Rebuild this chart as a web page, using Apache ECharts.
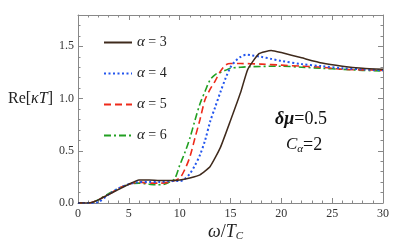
<!DOCTYPE html>
<html><head><meta charset="utf-8">
<script src="https://cdn.jsdelivr.net/npm/echarts@6/dist/echarts.min.js"></script>
<style>html,body{margin:0;padding:0;background:#fff}#c{width:415px;height:250px}</style>
</head><body><div id="c"></div>
<script>
const xTickValues=[0,5,10,15,20,25,30];
const yTickValues=[0.0,0.5,1.0,1.5];
const alphaValues=[3,4,5,6];
const a3X=[0,1,1.5,2,3,4,5,6,7,8,9,10,11,12,13,14,15,16,16.7,17.8,19,20,22,24,26,28,30];
const a3Y=[0,0,0.01,0.03,0.08,0.13,0.18,0.22,0.22,0.215,0.215,0.22,0.24,0.27,0.35,0.53,0.79,1.06,1.28,1.43,1.46,1.44,1.39,1.34,1.31,1.29,1.28];
const a4X=[0,1,2,3,4,5,6,7,8,9,10,10.5,11,11.5,12,12.5,13,13.5,14,14.5,15,15.5,16,16.6,17,18,19,20,22,24,26,28,30];
const a4Y=[0,0,0.01,0.08,0.14,0.18,0.2,0.2,0.2,0.21,0.21,0.23,0.28,0.36,0.46,0.6,0.78,0.92,1.06,1.19,1.3,1.36,1.4,1.42,1.415,1.4,1.38,1.36,1.33,1.31,1.29,1.28,1.27];
const a5X=[0,1,1.5,2,3,4,5,6,7,8,9,10,10.5,11,11.5,12,12.5,13,13.5,14,14.5,15,16,18,20,22,24,26,28,30];
const a5Y=[0,0,0.01,0.03,0.08,0.14,0.18,0.2,0.19,0.19,0.2,0.24,0.32,0.44,0.62,0.8,0.99,1.09,1.17,1.26,1.32,1.335,1.335,1.33,1.32,1.31,1.3,1.28,1.275,1.27];
const a6X=[0,1,1.5,2,3,4,5,6,7,7.7,8.5,9,9.5,10,10.5,11,11.5,12,12.5,13,13.5,14,14.5,15,16,17,20,22,24,26,28,30];
const a6Y=[0,0,0.01,0.03,0.09,0.14,0.18,0.19,0.18,0.175,0.18,0.2,0.23,0.36,0.48,0.62,0.79,0.95,1.07,1.18,1.23,1.25,1.27,1.29,1.3,1.305,1.31,1.3,1.29,1.28,1.27,1.265];

const serif="'Liberation Serif','DejaVu Serif',serif";
const colors=['#3f2a1c','#2255ee','#ee2a1a','#22a022'];
const dashes=['solid',[2,2.5],[7,4],[7,3,2,3]];
const widths=[1.5,2,1.6,1.6];
const xs=[a3X,a4X,a5X,a6X], ys=[a3Y,a4Y,a5Y,a6Y];

const chart=echarts.init(document.getElementById('c'),null,{renderer:'canvas'});
const frameColor='#888';
function xAx(pos,labels){return {type:'value',position:pos,min:0,max:30,interval:5,
  axisLine:{show:true,onZero:false,lineStyle:{color:frameColor,width:1}},
  axisTick:{show:true,inside:true,length:5,lineStyle:{color:frameColor}},
  minorTick:{show:true,splitNumber:5,length:2.5,lineStyle:{color:frameColor}},
  splitLine:{show:false},minorSplitLine:{show:false},
  axisLabel:{show:labels,margin:5,fontFamily:serif,fontSize:12,color:'#333'}};}
function yAx(pos,major,labels){return {type:'value',position:pos,min:0,max:1.8,interval:major?0.5:0.1,
  axisLine:{show:major,onZero:false,lineStyle:{color:frameColor,width:1}},
  axisTick:{show:true,inside:true,length:major?5:2.5,lineStyle:{color:frameColor}},
  splitLine:{show:false},
  axisLabel:{show:labels,margin:4,fontFamily:serif,fontSize:12,color:'#333',showMaxLabel:false,
    formatter:v=>yTickValues.some(t=>Math.abs(t-v)<1e-9)?v.toFixed(1):''}};}

const series=alphaValues.map((a,i)=>({
  name:'α = '+a,type:'line',xAxisIndex:0,yAxisIndex:0,
  data:xs[i].map((x,j)=>[x,ys[i][j]]),
  showSymbol:false,symbol:'none',smooth:i===0?0.15:0.3,
  lineStyle:{color:colors[i],width:widths[i],type:dashes[i]},
  itemStyle:{color:colors[i]},z:10-i}));

chart.setOption({
  animation:false,
  grid:{left:78,right:32,top:15,bottom:47,containLabel:false},
  xAxis:[xAx('bottom',true),xAx('top',false)],
  yAxis:[yAx('left',true,true),yAx('left',false,false),yAx('right',true,false),yAx('right',false,false)],
  legend:{orient:'vertical',left:98,top:30,itemWidth:28,itemHeight:14,itemGap:16,
    itemStyle:{opacity:0},
    data:alphaValues.map(a=>'α = '+a),
    formatter:n=>'{a|α}{b|'+n.slice(1)+'}',
    textStyle:{fontFamily:serif,fontSize:14,color:'#222',
      rich:{a:{fontStyle:'italic',fontFamily:serif,fontSize:15,color:'#222'},b:{fontFamily:serif,fontSize:14,color:'#222'}}}},
  series:series,
  graphic:[
    {type:'text',left:8,top:91,style:{text:'{r|Re[}{i|κT}{r|]}',
      rich:{r:{fontFamily:serif,fontSize:16,fill:'#222'},i:{fontFamily:serif,fontSize:16,fontStyle:'italic',fill:'#222'}}}},
    {type:'text',left:208,top:223,style:{text:'{i|ω}{r|/}{i|T}{s|C}',
      rich:{i:{fontFamily:serif,fontSize:18,fontStyle:'italic',fill:'#222'},r:{fontFamily:serif,fontSize:18,fill:'#222'},
        s:{fontFamily:serif,fontSize:11,fontStyle:'italic',fill:'#222',verticalAlign:'bottom',padding:[8,0,0,0]}}}},
    {type:'text',left:275,top:110,style:{text:'{b|δμ}{r|=0.5}',
      rich:{b:{fontFamily:serif,fontSize:18,fontStyle:'italic',fontWeight:'bold',fill:'#111'},r:{fontFamily:serif,fontSize:18,fill:'#111'}}}},
    {type:'text',left:286,top:136,style:{text:'{i|C}{s|α}{r|=2}',
      rich:{i:{fontFamily:serif,fontSize:17,fontStyle:'italic',fill:'#111'},r:{fontFamily:serif,fontSize:18,fill:'#111'},
        s:{fontFamily:serif,fontSize:11,fontStyle:'italic',fill:'#111',verticalAlign:'bottom',padding:[8,0,0,0]}}}}
  ]
});
</script></body></html>
